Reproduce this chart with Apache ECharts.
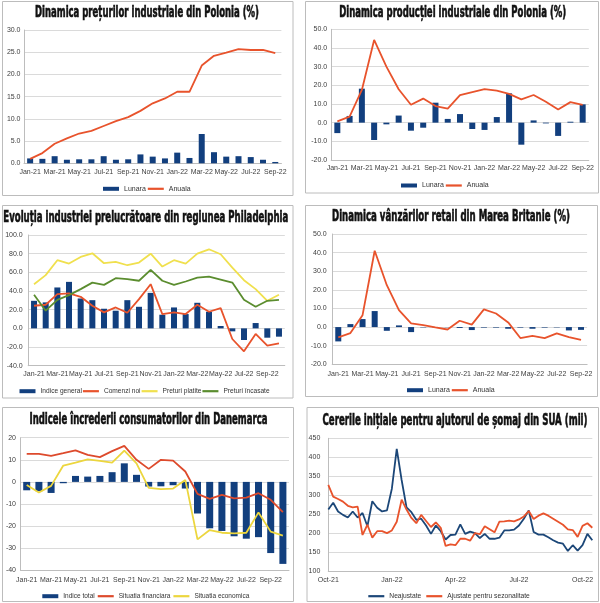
<!DOCTYPE html>
<html>
<head>
<meta charset="utf-8">
<script src="https://cdn.jsdelivr.net/npm/echarts@6/dist/echarts.min.js"></script>
<style>
html,body{margin:0;padding:0;background:#fff;}
#c{width:600px;height:603px;}
</style>
</head>
<body>
<div id="c"></div>
<script>
// ---------- DATA ----------
const months = ['Jan-21','Feb-21','Mar-21','Apr-21','May-21','Jun-21','Jul-21','Aug-21','Sep-21','Oct-21','Nov-21','Dec-21',
                'Jan-22','Feb-22','Mar-22','Apr-22','May-22','Jun-22','Jul-22','Aug-22','Sep-22','Oct-22'];
const months21 = months.slice(0, 21); // Jan-21 .. Sep-22
const months22 = months.slice(0, 22); // Jan-21 .. Oct-22

// Panel 1: Polish PPI
const ppiLunara = [1.1, 1.0, 1.6, 0.8, 0.9, 0.9, 1.6, 0.8, 0.9, 2.0, 1.5, 1.1, 2.4, 1.2, 6.6, 2.5, 1.5, 1.6, 1.4, 0.8, 0.3];
const ppiAnuala = [1.0, 2.3, 4.4, 5.6, 6.7, 7.3, 8.4, 9.5, 10.4, 11.8, 13.5, 14.6, 16.1, 16.1, 22.0, 24.2, 24.9, 25.7, 25.5, 25.5, 24.8];

// Panel 2: Polish industrial production
const ipLunara = [-5.6, 3.6, 18.2, -9.3, -0.9, 3.8, -4.3, -2.7, 10.7, 2.0, 4.6, -3.4, -3.9, 3.0, 15.7, -11.8, 1.2, -0.4, -7.1, 0.5, 9.8];
const ipAnuala = [0.7, 3.2, 17.5, 44.3, 30.0, 17.9, 9.6, 12.9, 8.9, 7.5, 14.8, 16.4, 18.0, 17.1, 15.4, 12.5, 14.8, 11.2, 7.1, 11.0, 9.5];

// Panel 3: Philadelphia manufacturing
const phIndice   = [29.5, 27.8, 43.8, 49.8, 32.0, 30.2, 21.0, 18.9, 30.2, 23.1, 38.0, 14.6, 22.4, 15.3, 27.4, 17.8, 2.5, -3.2, -12.5, 5.7, -10.0, -8.9];
const phComenzi  = [24.2, 25.3, 36.7, 37.4, 33.8, 24.2, 17.1, 22.4, 16.7, 31.3, 47.3, 15.3, 17.1, 15.3, 25.3, 17.8, 21.7, -11.4, -24.6, -6.0, -18.5, -16.0];
const phPlatite  = [47.3, 57.0, 73.0, 69.4, 76.5, 80.4, 69.8, 71.2, 67.6, 70.5, 80.0, 66.2, 73.0, 69.4, 80.0, 84.7, 79.4, 65.0, 51.6, 42.0, 29.5, 36.0];
const phIncasate = [36.0, 18.9, 30.6, 35.6, 42.0, 49.0, 46.6, 53.7, 52.7, 51.0, 62.6, 51.0, 46.6, 50.2, 54.4, 55.5, 52.3, 49.0, 30.6, 23.1, 29.5, 30.6];

// Panel 4: UK retail sales
const ukLunara = [-7.7, 1.6, 4.3, 8.6, -2.0, 0.9, -2.7, -0.2, -0.2, -0.1, -0.5, -1.6, -0.3, -0.3, -0.9, -0.3, -0.9, -0.3, -0.2, -1.8, -1.5];
const ukAnuala = [-5.5, -3.2, 6.4, 41.0, 22.5, 9.1, 2.0, 1.1, -0.2, -1.3, 3.4, 1.3, 9.5, 7.3, 2.5, -5.9, -4.7, -5.9, -3.4, -5.4, -6.9];

// Panel 5: Denmark consumer confidence
const dkTotal      = [-3.8, -4.2, -5.0, -0.6, 2.7, 2.4, 2.7, 4.4, 8.4, 3.2, -2.1, -2.0, -1.5, -3.0, -14.3, -21.0, -22.2, -24.6, -25.7, -25.0, -32.2, -37.1];
const dkFinanciara = [12.7, 12.7, 11.8, 13.0, 14.3, 12.2, 11.2, 13.9, 16.3, 10.0, 5.9, 10.0, 9.6, 4.7, -5.4, -7.7, -5.9, -7.5, -7.1, -5.1, -8.1, -13.7];
const dkEconomica  = [-1.4, -4.8, -1.8, 7.4, 8.7, 10.2, 9.5, 8.7, 14.2, 8.4, -2.7, -3.3, -3.0, 0.9, -26.0, -21.8, -23.0, -23.3, -23.0, -13.8, -22.5, -24.3];

// Panel 6: US initial jobless claims (weekly, thousands)
const usNeajustate = [262, 280, 257, 248, 241, 257, 241, 253, 218, 284, 267, 257, 260, 317, 422, 340, 268, 255, 235, 238,
                      220, 198, 220, 205, 183, 195, 196, 223, 198, 204, 200, 187, 198, 185, 185, 188, 207, 207, 209, 220,
                      238, 260, 203, 196, 196, 189, 181, 175, 172, 153, 168, 154, 168, 198, 181];
const usAjustate   = [327, 296, 290, 283, 272, 268, 270, 195, 222, 188, 205, 205, 200, 207, 230, 288, 262, 240, 226, 248,
                      232, 216, 228, 214, 166, 170, 168, 185, 185, 180, 200, 197, 218, 210, 202, 230, 231, 233, 231, 236,
                      244, 258, 237, 246, 252, 246, 238, 230, 222, 210, 208, 190, 219, 226, 214];
const usTickLabels = ['Oct-21', 'Jan-22', 'Apr-22', 'Jul-22', 'Oct-22'];
const usTickIdx    = [0, 13, 26, 39, 52];
const usWeeks = usNeajustate.map((_, i) => 'w' + i);

// ---------- STYLE ----------
const NAVY = '#123f7e', RED = '#e8532c', YELLOW = '#f0e04e', GREEN = '#5b8d2f', BLUE_LINE = '#1c4778';
const AX = '#404040', GRID = '#dadada', AXLINE = '#bdbdbd';
const FONT = "'Liberation Sans', Arial, sans-serif";
const TITLE_FONT = "'Liberation Sans Narrow', 'DejaVu Sans Condensed', 'Liberation Sans', sans-serif";
const LINE_ICON = 'path://M0 0H80V11H0Z';

const measureCtx = document.createElement('canvas').getContext('2d');
function titleEl(text, cx, cy, targetW) {
  const size = 15;
  const font = 'bold ' + size + 'px ' + TITLE_FONT;
  measureCtx.font = font;
  const w = measureCtx.measureText(text).width;
  return {
    type: 'text', x: cx, y: cy, scaleX: targetW / w, scaleY: 1, silent: true,
    style: { text: text, font: font, fill: '#111', stroke: '#111', lineWidth: 0.6,
             textAlign: 'center', textVerticalAlign: 'middle', align: 'center', verticalAlign: 'middle' }
  };
}
function box(x1, y1, x2, y2) {
  return { type: 'rect', silent: true, shape: { x: x1 + 0.5, y: y1 + 0.5, width: x2 - x1, height: y2 - y1 },
           style: { fill: 'none', stroke: '#bcbcbc', lineWidth: 1 } };
}

const grids = [
  { left: 24,    top: 30,    width: 257.4, height: 133.3 },
  { left: 331.2, top: 29.3,  width: 257.6, height: 130.7 },
  { left: 28.2,  top: 235,   width: 256.6, height: 130.7 },
  { left: 332.2, top: 234,   width: 254.9, height: 130.3 },
  { left: 20.6,  top: 437.7, width: 268.4, height: 132.6 },
  { left: 328.3, top: 438.3, width: 264,   height: 132.7 }
].map(g => Object.assign({ containLabel: false, outerBoundsMode: 'none' }, g));

function xCat(gi, data, margin) {
  return {
    type: 'category', gridIndex: gi, data: data, boundaryGap: true,
    axisLine: { show: true, onZero: false, lineStyle: { color: AXLINE } },
    axisTick: { show: false },
    axisLabel: { interval: 1, fontSize: 7, color: AX, margin: margin, fontFamily: FONT }
  };
}
function yVal(gi, min, max, step, dec, margin) {
  return {
    type: 'value', gridIndex: gi, min: min, max: max, interval: step,
    axisLine: { show: true, lineStyle: { color: AXLINE } },
    axisTick: { show: false },
    splitLine: { show: true, lineStyle: { color: GRID, width: 1 } },
    axisLabel: { fontSize: 7, color: AX, margin: margin, fontFamily: FONT,
                 formatter: v => v.toFixed(dec) }
  };
}

const xAxes = [
  xCat(0, months21, 5.5),
  xCat(1, months21, 5),
  xCat(2, months22, 5),
  xCat(3, months21, 6),
  xCat(4, months22, 6),
  {
    type: 'category', gridIndex: 5, data: usWeeks, boundaryGap: false,
    axisLine: { show: true, onZero: false, lineStyle: { color: AXLINE } },
    axisTick: { show: false },
    axisLabel: { fontSize: 7, color: AX, margin: 5.5, fontFamily: FONT,
                 interval: (idx) => usTickIdx.indexOf(idx) >= 0,
                 formatter: (v, idx) => { const k = usTickIdx.indexOf(idx); return k >= 0 ? usTickLabels[k] : ''; } }
  }
];
const yAxes = [
  yVal(0, 0, 30, 5, 1, 3.5),
  yVal(1, -20, 50, 10, 1, 4),
  yVal(2, -40, 100, 20, 1, 5.5),
  yVal(3, -20, 50, 10, 1, 5.5),
  yVal(4, -40, 20, 10, 0, 4.6),
  yVal(5, 100, 450, 50, 0, 8)
];

function bar(name, gi, data, w) {
  return { type: 'bar', name: name, xAxisIndex: gi, yAxisIndex: gi, data: data, barWidth: w,
           itemStyle: { color: NAVY }, z: 2 };
}
function line(name, gi, data, color, w) {
  return { type: 'line', name: name, xAxisIndex: gi, yAxisIndex: gi, data: data, symbol: 'none',
           lineStyle: { color: color, width: w || 1.8 }, itemStyle: { color: color }, z: 3 };
}

const series = [
  bar('Lunara', 0, ppiLunara, 6),
  line('Anuala', 0, ppiAnuala, RED),
  bar('Lunara', 1, ipLunara, 6),
  line('Anuala', 1, ipAnuala, RED),
  bar('Indice general', 2, phIndice, 6),
  line('Comenzi noi', 2, phComenzi, RED),
  line('Preturi platite', 2, phPlatite, YELLOW),
  line('Preturi încasate', 2, phIncasate, GREEN),
  bar('Lunara', 3, ukLunara, 6),
  line('Anuala', 3, ukAnuala, RED),
  bar('Indice total', 4, dkTotal, 7),
  line('Situatia financiara', 4, dkFinanciara, '#dd4a2c'),
  line('Situatia economica', 4, dkEconomica, '#ecd63e'),
  line('Neajustate', 5, usNeajustate, BLUE_LINE),
  line('Ajustate pentru sezonalitate', 5, usAjustate, RED)
];

// bar entries first in each list; line entries get a thin line icon
function legend(bars, lines, left, cy, gap, fs) {
  const data = bars.map(n => ({ name: n, icon: 'rect' }))
    .concat(lines.map(n => ({ name: n, icon: LINE_ICON })));
  return { data: data, left: left, top: cy - 4, itemWidth: 16, itemHeight: 4, itemGap: gap, padding: 0,
           selectedMode: false, textStyle: { fontSize: fs, color: '#333', fontFamily: FONT } };
}
const legends = [
  legend(['Lunara'], ['Anuala'], 103, 189.3, 2, 7),
  legend(['Lunara'], ['Anuala'], 401, 186, 2, 7),
  legend(['Indice general'], ['Comenzi noi', 'Preturi platite', 'Preturi încasate'], 19.5, 391.7, 1, 6.6),
  legend(['Lunara'], ['Anuala'], 407, 390.7, 2, 7),
  legend(['Indice total'], ['Situatia financiara', 'Situatia economica'], 42.3, 596.7, 3, 6.5),
  legend([], ['Neajustate', 'Ajustate pentru sezonalitate'], 368.3, 596.7, 5, 6.7)
];

const graphics = [
  box(2, 1, 292.5, 195), box(305, 1, 598, 192.5),
  box(2, 205, 292.5, 397.5), box(305, 205, 597, 396),
  box(2, 407, 293, 601), box(306.5, 407, 598, 601),
  titleEl('Dinamica prețurilor industriale din Polonia (%)', 147, 12.8, 224),
  titleEl('Dinamica producției industriale din Polonia (%)', 452.7, 12.8, 227),
  titleEl('Evoluția industriei prelucrătoare din regiunea Philadelphia', 145.8, 218.3, 285),
  titleEl('Dinamica vânzărilor retail din Marea Britanie (%)', 451, 217.2, 238),
  titleEl('Indicele încrederii consumatorilor din Danemarca', 148.5, 420.5, 238),
  titleEl('Cererile inițiale pentru ajutorul de șomaj din SUA (mii)', 455, 421.2, 265)
];

const chart = echarts.init(document.getElementById('c'), null, { renderer: 'canvas' });
chart.setOption({
  animation: false,
  backgroundColor: '#ffffff',
  textStyle: { fontFamily: FONT },
  grid: grids,
  xAxis: xAxes,
  yAxis: yAxes,
  legend: legends,
  series: series,
  graphic: graphics
});
</script>
</body>
</html>
